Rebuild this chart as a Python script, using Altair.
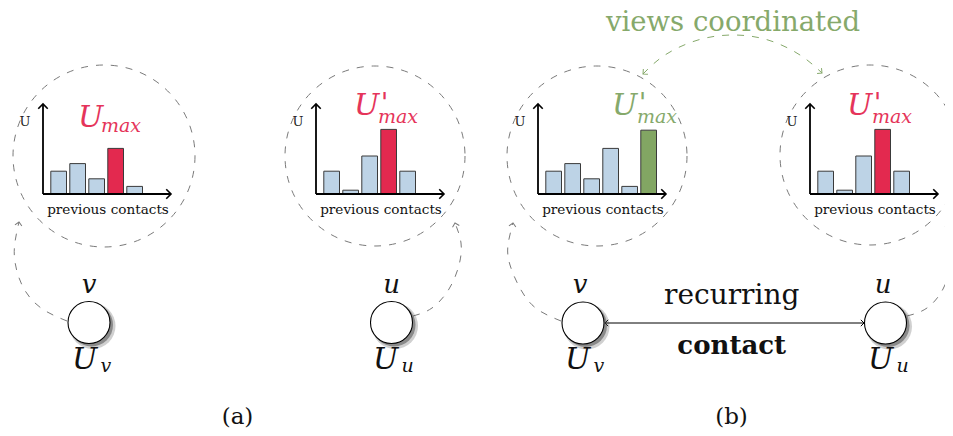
import altair as alt
import pandas as pd

# ---------------- data ----------------
panel_names = ["a_v", "a_u", "b_v", "b_u"]
hist_a_v = [3, 4, 2, 6, 1]          # previous contacts of v, panel (a)
hist_a_u = [3, 0.5, 5, 8.5, 3]      # previous contacts of u, panel (a)
hist_b_v = [3, 4, 2, 6, 1, 8.4]     # v after coordination, panel (b)
hist_b_u = [3, 0.5, 5, 8.5, 3]      # u, panel (b)
highlight = [3, 3, 5, 3]            # index of the highlighted bar
highlight_kind = ["max", "max", "coord", "max"]
axis_label = "U"
xlab = "previous contacts"
sub_labels = ["v", "u", "v", "u"]

# ---------------- layout / style ----------------
W, H = 937, 420
xs = alt.Scale(domain=[8, 8 + W], nice=False, zero=False)
ys = alt.Scale(domain=[8, 8 + H], nice=False, zero=False, reverse=True)
BLUE, RED, GREEN = "#bdd3e6", "#e3294f", "#82a663"
RED_T, GREEN_T = "#e5345a", "#86a96b"
GRAY = "#7a7a7a"
SERIF = "DejaVu Serif"

axis_x0 = [43, 316, 538, 810]
axis_base = 194
axis_top = 104
axis_len = 128
bar_off, bar_w, bar_pitch = 7.8, 15.7, 19.0
unit_px = 7.6


def X(f="x"):
    return alt.X(f"{f}:Q", scale=xs, axis=None)


def Y(f="y"):
    return alt.Y(f"{f}:Q", scale=ys, axis=None)


layers = []

# dashed view circles
circ = pd.DataFrame({"x": [104, 375, 597, 870], "y": [156, 156, 156, 155],
                     "r": [91, 90, 90, 90]})
circ["size"] = (2 * circ["r"]) ** 2
layers.append(alt.Chart(circ).mark_point(shape="circle", filled=False, opacity=1,
                                         stroke=GRAY, strokeWidth=1, strokeDash=[7, 8])
              .encode(x=X(), y=Y(), size=alt.Size("size:Q", scale=None)))

# dashed connectors node -> view
conn_pts = {
    "av": [(67, 321), (41, 308), (23, 287), (15, 262), (15, 242), (19, 222)],
    "au": [(413, 316), (432, 308), (449, 289), (459, 265), (461, 243), (455, 223)],
    "bv": [(561, 321), (537, 309), (521, 290), (510, 265), (508, 245), (513, 223)],
    "bu": [(907, 316), (927, 308), (943, 289), (951, 265), (952, 243), (948, 223)],
}
rows = []
for k, pts in conn_pts.items():
    for i, (px, py) in enumerate(pts):
        rows.append({"id": k, "i": i, "x": px, "y": py})
layers.append(alt.Chart(pd.DataFrame(rows)).mark_line(interpolate="natural", color=GRAY,
                                                       strokeWidth=1, strokeDash=[7, 8])
              .encode(x=X(), y=Y(), detail="id:N", order="i:Q"))

# green coordination arc
garc = [(643, 74), (665, 55), (698, 40), (733, 35), (768, 40), (800, 55), (822, 73)]
gdf = pd.DataFrame({"i": range(len(garc)), "x": [p[0] for p in garc], "y": [p[1] for p in garc]})
layers.append(alt.Chart(gdf).mark_line(interpolate="natural", color=GREEN_T,
                                       strokeWidth=1, strokeDash=[7, 8])
              .encode(x=X(), y=Y(), order="i:Q"))

ARROW = "M-1,-1L0,0L-1,1"
heads_gray = pd.DataFrame({"x": [19, 455, 513, 948], "y": [222, 223, 223, 223],
                           "angle": [280, 255, 280, 260], "size": [49] * 4})
layers.append(alt.Chart(heads_gray).mark_point(shape=ARROW, filled=False, opacity=1,
                                               stroke=GRAY, strokeWidth=1)
              .encode(x=X(), y=Y(), angle=alt.Angle("angle:Q", scale=None),
                      size=alt.Size("size:Q", scale=None)))
heads_green = pd.DataFrame({"x": [643, 822], "y": [74, 73], "angle": [139, 39], "size": [49, 49]})
layers.append(alt.Chart(heads_green).mark_point(shape=ARROW, filled=False, opacity=1,
                                                stroke=GREEN_T, strokeWidth=1)
              .encode(x=X(), y=Y(), angle=alt.Angle("angle:Q", scale=None),
                      size=alt.Size("size:Q", scale=None)))

# bars
bars = []
for p, hist in enumerate([hist_a_v, hist_a_u, hist_b_v, hist_b_u]):
    for i, v in enumerate(hist):
        x0 = axis_x0[p] + bar_off + i * bar_pitch
        if i == highlight[p]:
            col = RED if highlight_kind[p] == "max" else GREEN
        else:
            col = BLUE
        bars.append({"x": x0, "x2": x0 + bar_w, "y": axis_base,
                     "y2": axis_base - v * unit_px, "fill": col})
layers.append(alt.Chart(pd.DataFrame(bars)).mark_rect(stroke="#3a3a3a", strokeWidth=1)
              .encode(x=X(), x2="x2:Q", y=Y(), y2="y2:Q",
                      fill=alt.Fill("fill:N", scale=None)))

# histogram axes
ax = []
for x0 in axis_x0:
    ax.append({"x": x0, "x2": x0, "y": axis_base, "y2": axis_top})
    ax.append({"x": x0, "x2": x0 + axis_len, "y": axis_base, "y2": axis_base})
layers.append(alt.Chart(pd.DataFrame(ax)).mark_rule(color="black", strokeWidth=1.8)
              .encode(x=X(), x2="x2:Q", y=Y(), y2="y2:Q"))
ah = []
for x0 in axis_x0:
    ah.append({"x": x0, "y": axis_top, "angle": 270})
    ah.append({"x": x0 + axis_len, "y": axis_base, "angle": 0})
ahd = pd.DataFrame(ah)
ahd["size"] = 90
layers.append(alt.Chart(ahd).mark_point(shape=ARROW, filled=False, opacity=1,
                                        stroke="black", strokeWidth=1.6)
              .encode(x=X(), y=Y(), angle=alt.Angle("angle:Q", scale=None),
                      size=alt.Size("size:Q", scale=None)))

# recurring contact arrow
layers.append(alt.Chart(pd.DataFrame({"x": [605], "x2": [864], "y": [323]}))
              .mark_rule(color="black", strokeWidth=1)
              .encode(x=X(), x2="x2:Q", y=Y()))
layers.append(alt.Chart(pd.DataFrame({"x": [605, 864], "y": [323, 323], "angle": [180, 0],
                                      "size": [40, 40]}))
              .mark_point(shape=ARROW, filled=False, opacity=1, stroke="black", strokeWidth=1)
              .encode(x=X(), y=Y(), angle=alt.Angle("angle:Q", scale=None),
                      size=alt.Size("size:Q", scale=None)))

# nodes with shadow
nodes = pd.DataFrame({"x": [89, 391.5, 583, 885.5], "y": [322.5, 322.5, 323, 323]})
node_d = 42
for off, extra, op in [(3.5, 4, 0.25), (2.5, 1, 0.5)]:
    sh = nodes.copy()
    sh["x"] += off
    sh["y"] += off
    sh["size"] = (node_d + extra) ** 2
    layers.append(alt.Chart(sh).mark_point(shape="circle", filled=True, color="#444",
                                           opacity=op, strokeWidth=0)
                  .encode(x=X(), y=Y(), size=alt.Size("size:Q", scale=None)))
nd = nodes.copy()
nd["size"] = node_d ** 2
layers.append(alt.Chart(nd).mark_point(shape="circle", filled=True, fill="white", opacity=1,
                                       stroke="black", strokeWidth=1.1)
              .encode(x=X(), y=Y(), size=alt.Size("size:Q", scale=None)))

# ---------------- text ----------------
def text_layer(df, font=SERIF, **kw):
    return (alt.Chart(df).mark_text(font=font, **kw)
            .encode(x=X(), y=Y(), text="t:N", size=alt.Size("s:Q", scale=None),
                    color=alt.Color("c:N", scale=None)))


math_rows = [
    ("U", 78, 127, 30, RED_T), ("max", 101, 132, 19, RED_T),
    ("U", 354, 115, 30, RED_T), ("max", 378, 123, 19, RED_T),
    ("U", 612, 115, 30, GREEN_T), ("max", 637, 123, 19, GREEN_T),
    ("U", 847, 115, 30, RED_T), ("max", 872, 123, 19, RED_T),
]
Ux = [72, 373, 565, 868]
for k in range(4):
    math_rows.append(("U", Ux[k], 369, 30, "#111"))
    math_rows.append((sub_labels[k], Ux[k] + 28.5, 372, 19, "#111"))
mdf = pd.DataFrame(math_rows, columns=["t", "x", "y", "s", "c"])
layers.append(text_layer(mdf, fontStyle="italic", align="left", baseline="alphabetic"))

# primes on U'
primes = pd.DataFrame({"t": ["'"] * 3, "x": [381, 639, 874], "y": [112, 112, 112],
                       "s": [26] * 3, "c": [RED_T, GREEN_T, RED_T]})
layers.append(text_layer(primes, font="DejaVu Sans", fontStyle="italic", align="left",
                         baseline="alphabetic"))

nl = pd.DataFrame({"t": sub_labels, "x": [89, 391.5, 580, 883], "y": [293] * 4,
                   "s": [26] * 4, "c": ["#111"] * 4})
layers.append(text_layer(nl, fontStyle="italic", align="center", baseline="alphabetic"))

plain = [(axis_label, x0 - 18, 126, 13, "#222") for x0 in axis_x0]
plain += [(xlab, x0 + 65, 213.5, 13.6, "#111") for x0 in axis_x0]
plain += [("recurring", 731.7, 303.5, 28, "#111"),
          ("views coordinated", 733, 31, 27.5, GREEN_T),
          ("(a)", 237.5, 424, 23, "#111"), ("(b)", 731.5, 424, 23, "#111")]
pdf = pd.DataFrame(plain, columns=["t", "x", "y", "s", "c"])
layers.append(text_layer(pdf, align="center", baseline="alphabetic"))

bold = pd.DataFrame({"t": ["contact"], "x": [731.7], "y": [353.5], "s": [26], "c": ["#111"]})
layers.append(text_layer(bold, fontWeight="bold", align="center", baseline="alphabetic"))

chart = (alt.layer(*layers)
         .properties(width=W, height=H, padding=0, background="white",
                     autosize=alt.AutoSizeParams(type="none"))
         .configure_view(strokeWidth=0))

chart.save("out.html", embed_options={"renderer": "svg", "actions": False})
